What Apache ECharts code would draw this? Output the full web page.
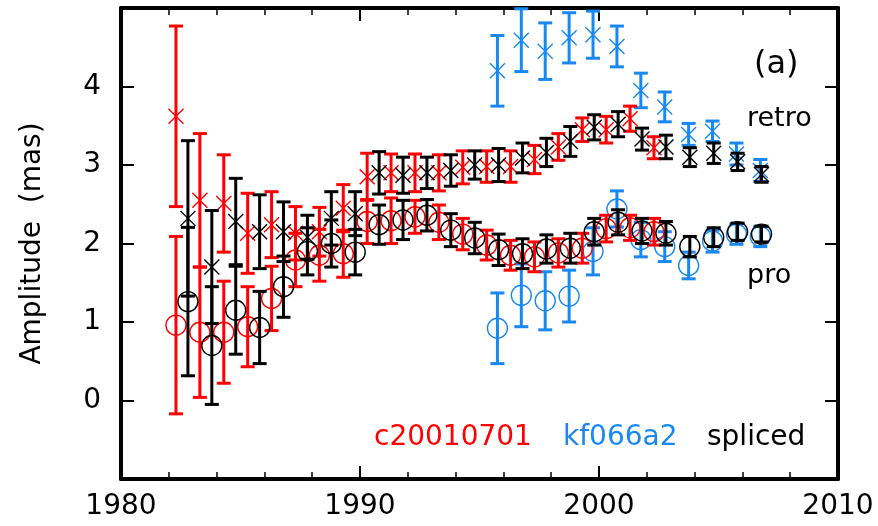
<!DOCTYPE html>
<html>
<head>
<meta charset="utf-8">
<script src="https://cdn.jsdelivr.net/npm/echarts@6/dist/echarts.min.js"></script>
<style>html,body{margin:0;padding:0;background:#fff}#c{width:878px;height:526px}</style>
</head>
<body>
<div id="c"></div>
<script>
// ---- data ----
const redYears = [1982.3,1983.3,1984.3,1985.3,1986.3,1987.3,1988.3,1989.3,1990.3,1991.3,1992.3,1993.3,1994.3,1995.3,1996.3,1997.3,1998.3,1999.3,2000.3,2001.3,2002.3];
const redRetro = [3.62,2.55,2.51,2.13,2.24,2.13,2.15,2.45,2.85,2.90,2.90,2.90,2.97,2.98,2.98,3.07,3.23,3.45,3.45,3.59,3.22];
const redRetroErr = [1.15,0.85,0.62,0.51,0.42,0.34,0.31,0.30,0.30,0.24,0.24,0.23,0.21,0.20,0.20,0.18,0.17,0.15,0.17,0.16,0.14];
const redPro = [0.96,0.87,0.87,0.94,1.30,1.79,1.85,1.87,2.28,2.29,2.34,2.27,2.12,1.98,1.85,1.83,1.88,1.94,2.19,2.20,2.15];
const redProErr = [1.13,0.83,0.65,0.51,0.41,0.34,0.33,0.30,0.28,0.29,0.21,0.22,0.20,0.19,0.19,0.19,0.18,0.19,0.17,0.16,0.17];

const blueYears = [1995.75,1996.75,1997.75,1998.75,1999.75,2000.75,2001.75,2002.75,2003.75,2004.75,2005.75,2006.75];
const blueRetro = [4.20,4.59,4.45,4.62,4.66,4.51,3.95,3.74,3.39,3.43,3.14,2.93];
const blueRetroErr = [0.45,0.40,0.36,0.32,0.30,0.26,0.22,0.19,0.14,0.13,0.14,0.14];
const bluePro = [0.92,1.34,1.27,1.33,1.90,2.44,2.05,1.96,1.72,2.03,2.12,2.09];
const blueProErr = [0.45,0.40,0.37,0.33,0.30,0.23,0.22,0.19,0.17,0.14,0.13,0.13];

const blackYears = [1982.8,1983.8,1984.8,1985.8,1986.8,1987.8,1988.8,1989.8,1990.8,1991.8,1992.8,1993.8,1994.8,1995.8,1996.8,1997.8,1998.8,1999.8,2000.8,2001.8,2002.8,2003.8,2004.8,2005.8,2006.8];
const blackRetro = [2.32,1.70,2.28,2.15,2.15,2.08,2.32,2.38,2.90,2.87,2.90,2.93,3.00,3.00,3.09,3.16,3.30,3.48,3.52,3.33,3.23,3.10,3.15,3.04,2.88];
const blackRetroErr = [0.99,0.72,0.55,0.47,0.38,0.28,0.34,0.28,0.27,0.23,0.20,0.20,0.18,0.21,0.19,0.18,0.19,0.16,0.16,0.14,0.15,0.12,0.13,0.11,0.10];
const blackPro = [1.26,0.70,1.15,0.93,1.45,1.90,2.00,1.89,2.24,2.30,2.36,2.17,2.07,1.92,1.87,1.93,1.94,2.15,2.27,2.16,2.13,1.96,2.08,2.15,2.12];
const blackProErr = [0.945,0.75,0.56,0.46,0.39,0.30,0.30,0.29,0.25,0.25,0.20,0.21,0.20,0.20,0.19,0.18,0.19,0.17,0.16,0.16,0.15,0.13,0.12,0.11,0.10];

const xTickLabels = ['1980','1990','2000','2010'];
const yTickLabels = ['0','1','2','3','4'];
const legendNames = ['c20010701','kf066a2','spliced'];

const RED = '#ff0000', BLUE = '#1a88f2', BLACK = '#000000';
const FONT = 'DejaVu Sans';

function rows(xs, ys, es) { return xs.map((x, i) => [x, ys[i], es[i]]); }

function makeRender(color, marker) {
  return function (params, api) {
    const x = api.value(0), y = api.value(1), e = api.value(2);
    const c = api.coord([x, y]);
    const t = api.coord([x, y + e]);
    const b = api.coord([x, y - e]);
    const cap = 7;
    const barStyle = { stroke: color, lineWidth: 3 };
    const mStyle = { stroke: color, lineWidth: 1.4, fill: null };
    const children = [
      { type: 'line', shape: { x1: c[0], y1: t[1], x2: c[0], y2: b[1] }, style: barStyle },
      { type: 'line', shape: { x1: c[0] - cap, y1: t[1], x2: c[0] + cap, y2: t[1] }, style: barStyle },
      { type: 'line', shape: { x1: c[0] - cap, y1: b[1], x2: c[0] + cap, y2: b[1] }, style: barStyle }
    ];
    if (marker === 'cross') {
      const s = 7.5;
      children.push({ type: 'line', shape: { x1: c[0] - s, y1: c[1] - s, x2: c[0] + s, y2: c[1] + s }, style: mStyle });
      children.push({ type: 'line', shape: { x1: c[0] - s, y1: c[1] + s, x2: c[0] + s, y2: c[1] - s }, style: mStyle });
    } else {
      children.push({ type: 'circle', shape: { cx: c[0], cy: c[1], r: 10 }, style: { stroke: color, lineWidth: 1.4, fill: 'none' } });
    }
    return { type: 'group', children };
  };
}

function series(name, xs, ys, es, color, marker) {
  return {
    type: 'custom', name,
    data: rows(xs, ys, es),
    encode: { x: 0, y: 1 },
    renderItem: makeRender(color, marker),
    clip: false, silent: true, animation: false
  };
}

const axisLine = { show: true, onZero: false, lineStyle: { color: '#000', width: 4 } };
const xCommon = {
  type: 'value', min: 1980, max: 2010, interval: 10,
  axisLine, splitLine: { show: false },
  axisTick: { show: true, inside: true, length: 13, lineStyle: { color: '#000', width: 2 } },
  minorTick: { show: true, splitNumber: 5, length: 7, lineStyle: { color: '#000', width: 1.5 } }
};
const yCommon = {
  type: 'value', min: -1, max: 5, interval: 1,
  axisLine, splitLine: { show: false },
  axisTick: { show: true, inside: true, length: 13, lineStyle: { color: '#000', width: 2 } }
};

const chart = echarts.init(document.getElementById('c'), null, { renderer: 'canvas' });
chart.setOption({
  animation: false,
  backgroundColor: '#fff',
  grid: { left: 121, right: 40, top: 8, bottom: 47 },
  xAxis: [
    Object.assign({}, xCommon, { position: 'bottom',
      axisLabel: { show: true, margin: 14, fontFamily: FONT, fontSize: 28, color: '#000',
        formatter: v => (xTickLabels.indexOf(String(v)) >= 0 ? String(v) : '') } }),
    Object.assign({}, xCommon, { position: 'top', axisLabel: { show: false } })
  ],
  yAxis: [
    Object.assign({}, yCommon, { position: 'left',
      name: 'Amplitude  (mas)', nameLocation: 'middle', nameGap: 74, nameRotate: 90,
      nameTextStyle: { fontFamily: FONT, fontSize: 28, color: '#000' },
      axisLabel: { show: true, margin: 20, fontFamily: FONT, fontSize: 28, color: '#000',
        formatter: v => (yTickLabels.indexOf(String(v)) >= 0 ? String(v) : '') } }),
    Object.assign({}, yCommon, { position: 'right', axisLabel: { show: false } })
  ],
  series: [
    series('kf066a2 retro', blueYears, blueRetro, blueRetroErr, BLUE, 'cross'),
    series('kf066a2 pro', blueYears, bluePro, blueProErr, BLUE, 'circle'),
    series('c20010701 retro', redYears, redRetro, redRetroErr, RED, 'cross'),
    series('c20010701 pro', redYears, redPro, redProErr, RED, 'circle'),
    series('spliced retro', blackYears, blackRetro, blackRetroErr, BLACK, 'cross'),
    series('spliced pro', blackYears, blackPro, blackProErr, BLACK, 'circle')
  ],
  graphic: [
    { type: 'text', left: 754, top: 49, style: { text: '(a)', font: '32px "DejaVu Sans"', fill: '#000' } },
    { type: 'text', x: 747, y: 119, style: { text: 'retro', font: '27px "DejaVu Sans"', fill: '#000', verticalAlign: 'middle' } },
    { type: 'text', x: 747, y: 276, style: { text: 'pro', font: '27px "DejaVu Sans"', fill: '#000', verticalAlign: 'middle' } },
    { type: 'text', x: 374, y: 438, style: { text: legendNames[0], font: '28px "DejaVu Sans"', fill: RED, verticalAlign: 'middle' } },
    { type: 'text', x: 563, y: 438, style: { text: legendNames[1], font: '28px "DejaVu Sans"', fill: BLUE, verticalAlign: 'middle' } },
    { type: 'text', x: 707, y: 438, style: { text: legendNames[2], font: '28px "DejaVu Sans"', fill: BLACK, verticalAlign: 'middle' } }
  ]
});
</script>
</body>
</html>
